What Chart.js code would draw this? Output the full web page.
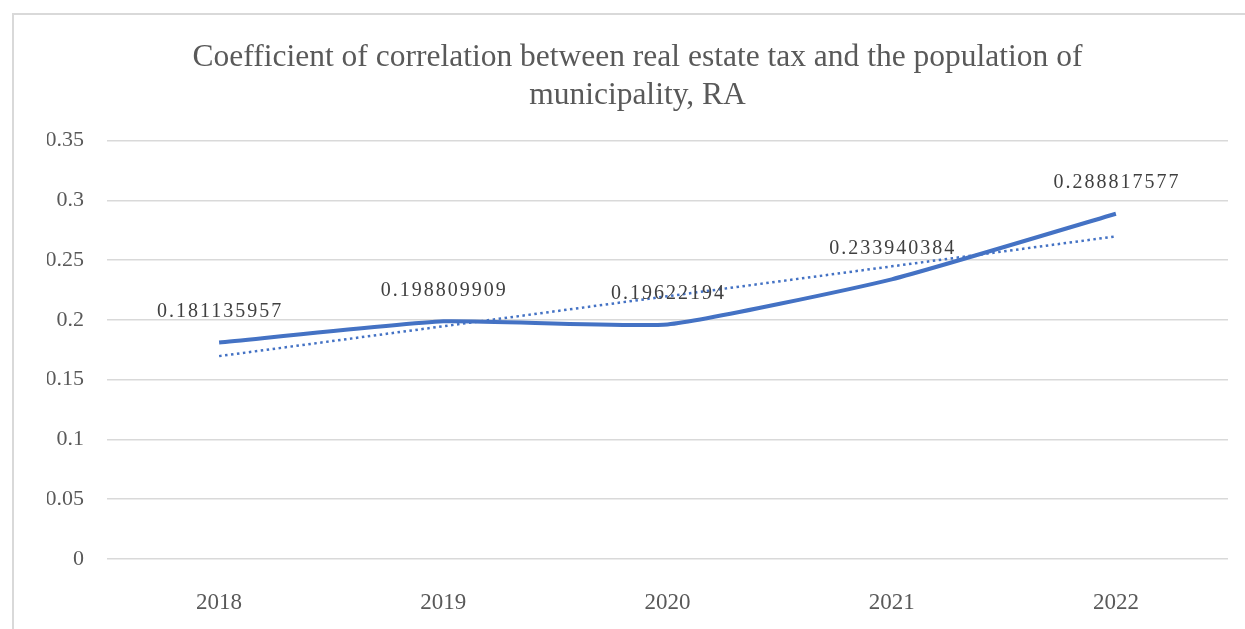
<!DOCTYPE html>
<html>
<head>
<meta charset="utf-8">
<script src="https://cdn.jsdelivr.net/npm/chart.js@4.4.0/dist/chart.umd.min.js"></script>
<style>
  html, body { margin: 0; padding: 0; background: #fff; }
  #frame { position: absolute; left: 12px; top: 13px; width: 1240px; height: 620px;
           border-top: 2px solid #d9d9d9; border-left: 2px solid #d9d9d9; }
  #wrap { position: absolute; left: 0; top: 0; width: 1245px; height: 629px; }
</style>
</head>
<body>
<div id="frame"></div>
<div id="wrap"><canvas id="chart" width="1245" height="629"></canvas></div>
<script>
// data
const years = ['2018', '2019', '2020', '2021', '2022'];
const coefValues = [0.181135957, 0.198809909, 0.19622194, 0.233940384, 0.288817577];
// Excel linear trendline
const trendValues = [0.1697, 0.1947, 0.2198, 0.2448, 0.2699];
const yTicks = [0, 0.05, 0.1, 0.15, 0.2, 0.25, 0.3, 0.35];

const blue = '#4472C4';
const serif = '"Liberation Serif", "Times New Roman", serif';

// value labels above the solid line
const valueLabels = {
    id: 'valueLabels',
    afterDatasetsDraw(chart) {
        const ctx = chart.ctx;
        const meta = chart.getDatasetMeta(0);
        ctx.save();
        ctx.font = '20px ' + serif;
        ctx.fillStyle = '#404040';
        ctx.textAlign = 'center';
        ctx.textBaseline = 'middle';
        ctx.letterSpacing = '2px';
        meta.data.forEach((pt, i) => {
            ctx.fillText(String(coefValues[i]), pt.x + 1, pt.y - 31);
        });
        ctx.restore();
    }
};

new Chart(document.getElementById('chart'), {
    type: 'line',
    data: {
        labels: years,
        datasets: [
            { data: coefValues, borderColor: blue, borderWidth: 4, pointRadius: 0, tension: 0.15, fill: false },
            { data: trendValues, borderColor: blue, borderWidth: 2.5, borderDash: [2.5, 3.5], pointRadius: 0, tension: 0, fill: false }
        ]
    },
    options: {
        responsive: false,
        animation: false,
        events: [],
        layout: { padding: { left: 47, right: 17, top: 0, bottom: 0 } },
        plugins: {
            legend: { display: false },
            tooltip: { enabled: false },
            title: {
                display: true,
                text: ['Coefficient of correlation between real estate tax and the population of', 'municipality, RA'],
                color: '#595959',
                font: { family: serif, size: 31.5, weight: 'normal', lineHeight: 1.2 },
                padding: { top: 39, bottom: 26 }
            }
        },
        scales: {
            x: {
                offset: true,
                grid: { display: false, drawTicks: false },
                border: { display: false },
                ticks: { color: '#595959', font: { family: serif, size: 23 }, padding: 30 },
                afterFit(scale) { scale.height = 70; }
            },
            y: {
                min: 0,
                max: 0.35,
                afterBuildTicks(scale) { scale.ticks = yTicks.map(v => ({ value: v })); },
                grid: { color: '#d9d9d9', lineWidth: 1.5, drawTicks: false },
                border: { display: false },
                ticks: {
                    color: '#595959',
                    font: { family: serif, size: 22 },
                    padding: 23,
                    callback: v => String(v)
                },
                afterFit(scale) { scale.width = 60; }
            }
        }
    },
    plugins: [valueLabels]
});
</script>
</body>
</html>
